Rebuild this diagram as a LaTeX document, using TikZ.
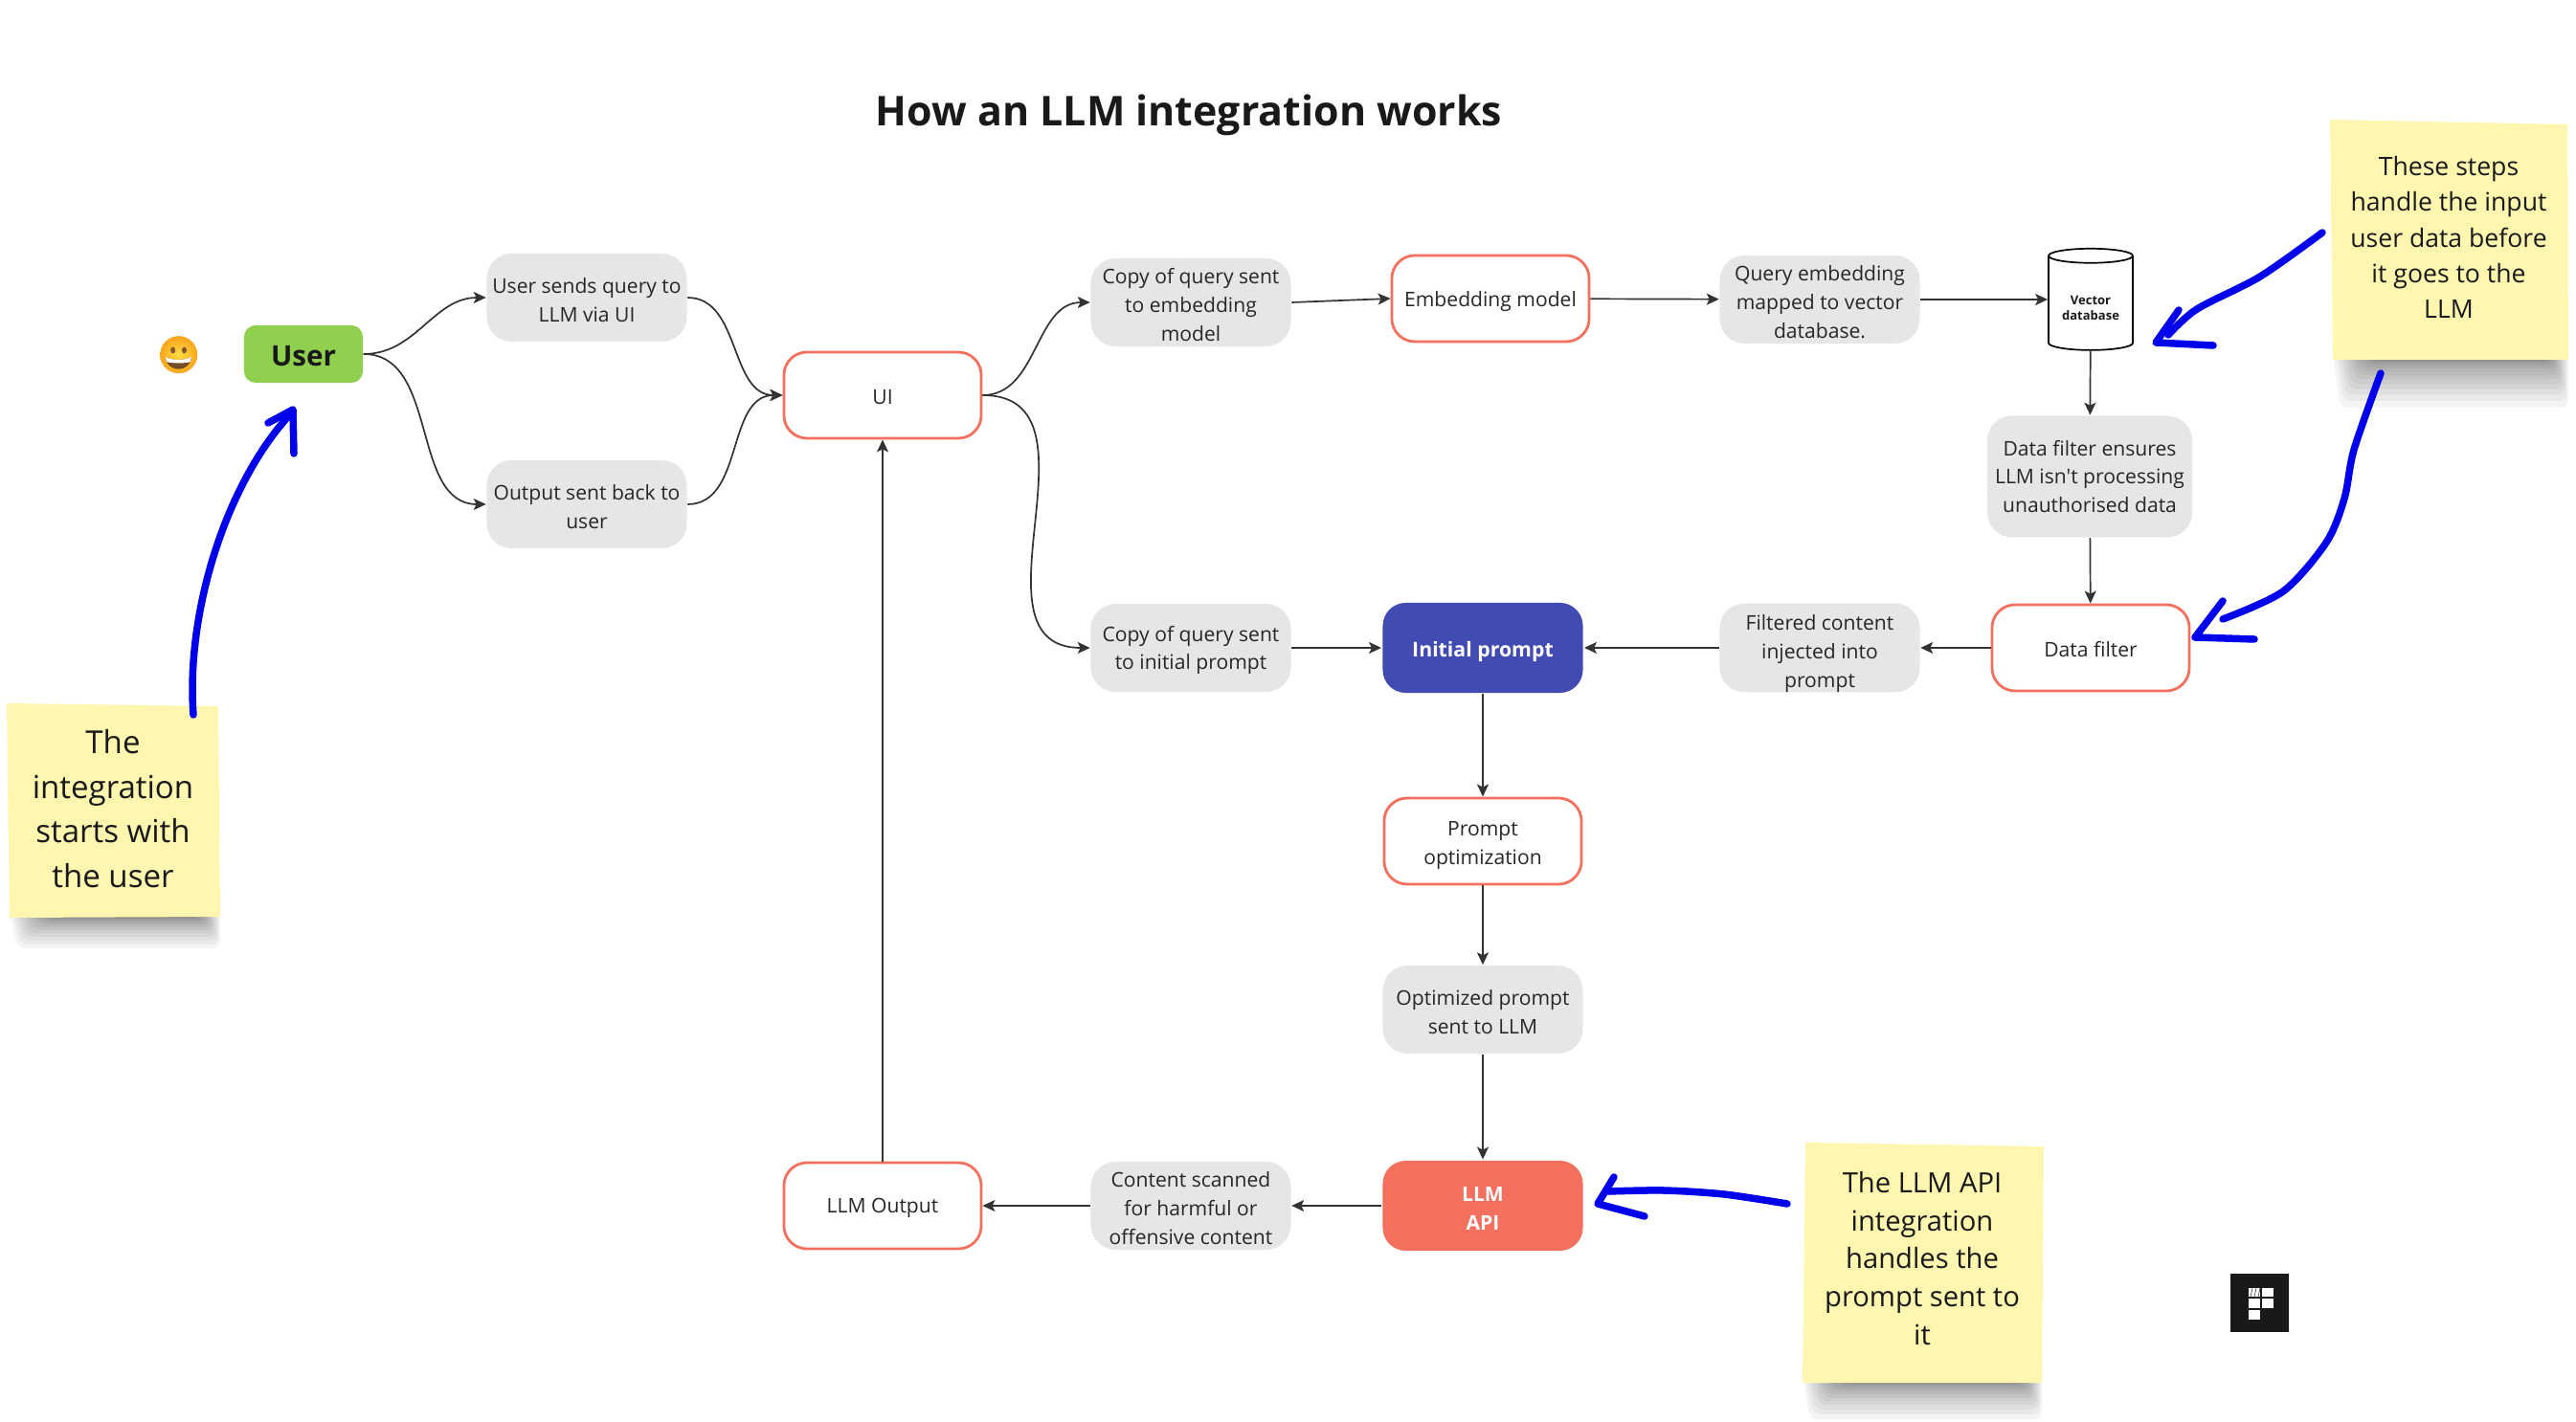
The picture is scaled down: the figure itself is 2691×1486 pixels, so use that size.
\documentclass[tikz,border=0pt]{standalone}
\usepackage{fontspec}
\setmainfont{Open Sans}[Ligatures=TeXOff]
\usepackage{xcolor}
\usetikzlibrary{arrows.meta,shapes.geometric}
\definecolor{greyfill}{HTML}{E6E6E6}
\definecolor{coral}{HTML}{F4705E}
\definecolor{indigofill}{HTML}{414BB2}
\definecolor{usergreen}{HTML}{8FD14F}
\definecolor{stickyyellow}{HTML}{FFF6B0}
\definecolor{penblue}{RGB}{0,0,235}
\definecolor{linkgrey}{HTML}{333333}
\definecolor{smileyin}{HTML}{FFDD45}
\definecolor{smileyout}{HTML}{F8A51C}
\newcommand{\stickyshade}[4]{%
  \foreach \i in {1,...,14}
    \fill[black,opacity=.045,rounded corners=.8mm] ({#1+3*(14-\i)},#3-6) -- ({#2-1.6*(14-\i)},#3-6) -- ({#2-1.6*(14-\i)},{#3+#4*\i/14*\i/14}) -- ({#1+3*(14-\i)+8},{#3+#4*\i/14*\i/14}) -- cycle;
}
\newcommand{\dropline}[1]{\rule{0pt}{#1}}
\tikzset{
  textdrop/.style={execute at begin node={\rule{0pt}{#1}}},
  greybox/.style={fill=greyfill,rounded corners=2.6mm,inner xsep=1pt,inner ysep=0pt,minimum width=20.9mm,minimum height=9.2mm,align=center,font=\fontsize{6}{8.5}\selectfont,text=black!85},
  redbox/.style={draw=coral,fill=white,line width=.28mm,rounded corners=2.4mm,inner xsep=1pt,inner ysep=0pt,minimum width=20.6mm,minimum height=9mm,align=center,font=\fontsize{6}{8.5}\selectfont,text=black!85,textdrop=5.6pt},
  link/.style={draw=linkgrey,line width=.17mm,-{Stealth[length=1.3mm,width=1.2mm,inset=.3mm]}},
  penline/.style={draw=penblue,line width=.75mm,line cap=round,line join=round},
  stickytext/.style={align=center,text=black!90},
}
\begin{document}
\begin{tikzpicture}[x=0.01cm,y=-0.01cm]
  \useasboundingbox (0,0) rectangle (2691,1486);
  \node[font=\fontsize{12.2}{14}\selectfont\bfseries,text=black!90] (title) at (1242,120) {How an LLM integration works};

  % top row
  \node[fill=usergreen,rounded corners=1.2mm,minimum width=12.4mm,minimum height=6mm,font=\fontsize{8.4}{10}\selectfont\bfseries,text=black!90,textdrop=7pt] (user) at (317,370) {User};
  \node[greybox] (usersends) at (613,311) {\dropline{6pt}User sends query to\\LLM via UI};
  \node[greybox] (outputback) at (613,527) {\dropline{6pt}Output sent back to\\user};
  \node[redbox] (ui) at (922,413) {UI};
  \node[greybox] (copyembed) at (1244,316) {\dropline{6pt}Copy of query sent\\to embedding\\model};
  \node[redbox,textdrop=6.4pt] (embedmodel) at (1557,312) {Embedding model};
  \node[greybox] (queryembed) at (1901,313) {\dropline{6pt}Query embedding\\mapped to vector\\database.};
  \node[cylinder,shape border rotate=90,aspect=.25,draw=black,fill=white,line width=.17mm,minimum width=8.8mm,minimum height=10.6mm,inner sep=0pt,align=center,font=\fontsize{3.7}{4.6}\selectfont\bfseries,label={[yshift=-.5mm,align=center,font=\fontsize{3.7}{4.6}\selectfont\bfseries,text=black!90]center:Vector\\database}] (vectordb) at (2184,317) {\phantom{Vector}\\\phantom{database}};
  \node[greybox,minimum width=21.4mm,minimum height=12.7mm] (filtercheck) at (2183,498) {Data filter ensures\\LLM isn't processing\\unauthorised data};
  \node[redbox] (datafilter) at (2184,677) {Data filter};

  % middle column
  \node[greybox] (filtered) at (1901,677) {\dropline{8pt}Filtered content\\injected into\\prompt};
  \node[redbox,draw=none,fill=indigofill,text=white,minimum width=20.9mm,minimum height=9.4mm,font=\fontsize{6.05}{8.5}\selectfont\bfseries,textdrop=6.6pt] (initial) at (1549,677) {Initial prompt};
  \node[greybox] (copyinitial) at (1244,677) {\dropline{6pt}Copy of query sent\\to initial prompt};
  \node[redbox] (optim) at (1549,879) {\dropline{7pt}Prompt\\optimization};
  \node[greybox] (optimized) at (1549,1055) {\dropline{6pt}Optimized prompt\\sent to LLM};
  \node[redbox,draw=none,fill=coral,text=white,minimum width=20.9mm,minimum height=9.4mm,font=\fontsize{6}{8.5}\selectfont\bfseries] (api) at (1549,1260) {\dropline{6pt}LLM\\API};
  \node[greybox] (scanned) at (1244,1260) {\dropline{6pt}Content scanned\\for harmful or\\offensive content};
  \node[redbox] (llmoutput) at (922,1260) {LLM Output};

  % connectors
  \draw[link] (user.east) to[out=0,in=180] (usersends.west);
  \draw[link] (user.east) to[out=0,in=180] (outputback.west);
  \draw[link] (usersends.east) to[out=0,in=180] (ui.west);
  \draw[link] (outputback.east) to[out=0,in=180] (ui.west);
  \draw[link] (ui.east) to[out=0,in=180] (copyembed.west);
  \draw[link] (ui.east) to[out=0,in=180,looseness=1.2] (copyinitial.west);
  \draw[link] (copyembed.east) -- (embedmodel.west);
  \draw[link] (embedmodel) -- (queryembed);
  \draw[link] (queryembed.east) -- (queryembed.east -| vectordb.west);
  \draw[link] (vectordb) -- (filtercheck);
  \draw[link] (filtercheck) -- (datafilter);
  \draw[link] (datafilter) -- (filtered);
  \draw[link] (filtered) -- (initial);
  \draw[link] (copyinitial) -- (initial);
  \draw[link] (initial) -- (optim);
  \draw[link] (optim) -- (optimized);
  \draw[link] (optimized) -- (api);
  \draw[link] (api) -- (scanned);
  \draw[link] (scanned) -- (llmoutput);
  \draw[link] (llmoutput) -- (ui);

  % sticky notes
  \stickyshade{10}{230}{959}{32}
  \fill[stickyyellow] (7,735) -- (228,738) -- (230,958) -- (10,959) -- cycle;
  \node[stickytext,font=\fontsize{9.4}{13.2}\selectfont] (stickyuser) at (118,845) {The\\integration\\starts with\\the user};
  \stickyshade{2437}{2683}{376}{50}
  \fill[stickyyellow] (2434,125) -- (2682,130) -- (2683,376) -- (2437,376) -- cycle;
  \node[stickytext,font=\fontsize{7.56}{10.6}\selectfont] (stickysteps) at (2558,248) {These steps\\handle the input\\user data before\\it goes to the\\LLM};
  \stickyshade{1883}{2133}{1445}{38}
  \fill[stickyyellow] (1886,1194) -- (2135,1198) -- (2133,1445) -- (1883,1445) -- cycle;
  \node[stickytext,font=\fontsize{8.3}{11.35}\selectfont] (stickyapi) at (2008,1315) {The LLM API\\integration\\handles the\\prompt sent to\\it};

  % pen strokes
  \draw[penline] (202,747) .. controls (194,640) and (236,505) .. (304,432);
  \draw[penline] (280,442) -- (306,428) -- (307,474);
  \draw[penline] plot[smooth] coordinates {(2426,243) (2361,289) (2295,323) (2265,350)};
  \draw[penline] (2276,324) -- (2252,358) -- (2312,361);
  \draw[penline] plot[smooth] coordinates {(2487,390) (2459,470) (2449,521) (2430,567) (2385,618) (2322,647)};
  \draw[penline] (2322,628) -- (2293,666) -- (2355,668);
  \draw[penline] plot[smooth] coordinates {(1867,1258) (1801,1248) (1738,1244) (1680,1245)};
  \draw[penline] (1686,1230) -- (1669,1258) -- (1718,1271);

  % emoji
  \coordinate (smiley) at (186.7,370.7);
  \shade[inner color=smileyin,outer color=smileyout] (smiley) circle (19.5);
  \fill[brown!70!black] (180.7,366) ellipse (2.5 and 3.5);
  \fill[brown!70!black] (192.5,366) ellipse (2.5 and 3.5);
  \fill[brown!60!black] (172.7,373) .. controls (180,377) and (193,377) .. (200,373) .. controls (199,390) and (174,390) .. (172.7,373) -- cycle;
  \fill[white] (172.9,373) .. controls (180,377) and (193,377) .. (199.8,373) -- (199,378) .. controls (193,380) and (180,380) .. (174,378) -- cycle;

  % logo
  \fill[black!90] (2329.5,1331) rectangle (2391,1392);
  \fill[white] (2349,1346) rectangle (2361,1355);
  \foreach \k in {2351,2355,2359}
    \draw[black!90,line width=.05mm] (\k,1355) -- (\k+2,1346);
  \fill[white] (2363,1346) rectangle (2375,1355);
  \fill[white] (2349,1357) rectangle (2361,1367);
  \fill[white] (2363,1357) rectangle (2375,1367);
  \fill[white] (2349,1369) rectangle (2361,1379);
\end{tikzpicture}
\end{document}
